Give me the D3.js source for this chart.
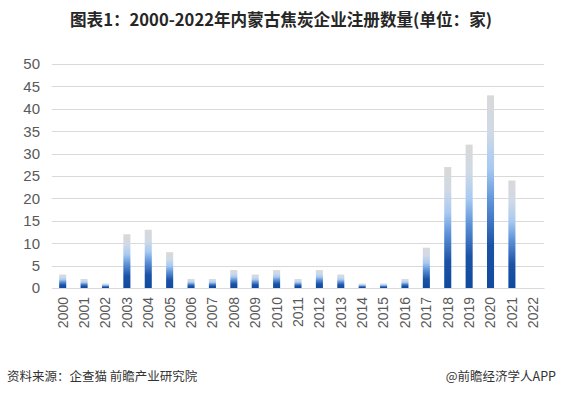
<!DOCTYPE html>
<html><head><meta charset="utf-8">
<script src="https://cdn.jsdelivr.net/npm/d3@7"></script>
<style>body{margin:0;background:#fff;}svg{display:block;}</style>
</head><body>
<svg id="c" width="561" height="396"></svg>
<script>
const years = ["2000","2001","2002","2003","2004","2005","2006","2007","2008","2009","2010","2011","2012","2013","2014","2015","2016","2017","2018","2019","2020","2021","2022"];
const counts = [3,2,1,12,13,8,2,2,4,3,4,2,4,3,1,1,2,9,27,32,43,24,0];
const yTicks = [0,5,10,15,20,25,30,35,40,45,50];
const title = "图表1：2000-2022年内蒙古焦炭企业注册数量(单位：家)";
const source = "资料来源：企查猫 前瞻产业研究院";
const credit = "@前瞻经济学人APP";

const svg = d3.select("#c");
const font = "'Noto Sans CJK SC','Noto Sans',sans-serif";
const m = {l:52, r:544, t:64, b:288};
const x = d3.scaleBand().domain(years).range([m.l, m.r]).paddingInner(0.67).paddingOuter(0.335);
const y = d3.scaleLinear().domain([0,50]).range([m.b, m.t]);

const defs = svg.append("defs");
const g = defs.append("linearGradient").attr("id","bg").attr("x1",0).attr("y1",1).attr("x2",0).attr("y2",0);
[[0,"#0f4a9e"],[0.22,"#1b52a6"],[0.45,"#5e93d8"],[0.62,"#a7c9f2"],[0.8,"#cfd9e6"],[1,"#d9d9d9"]]
  .forEach(([o,c])=>g.append("stop").attr("offset",o).attr("stop-color",c));

svg.append("text").attr("x",281).attr("y",26).attr("text-anchor","middle")
  .attr("font-family",font).attr("font-weight","bold").attr("font-size",16.6).attr("fill","#262626").text(title);

// grid
svg.append("g").selectAll("line").data(yTicks).join("line")
  .attr("x1",m.l).attr("x2",m.r).attr("y1",d=>Math.round(y(d))+0.5).attr("y2",d=>Math.round(y(d))+0.5)
  .attr("stroke","#d9d9d9").attr("stroke-width",1);

const ya = svg.append("g").attr("transform",`translate(${m.l},0)`)
  .call(d3.axisLeft(y).tickValues(yTicks).tickSize(0).tickPadding(12));
ya.select(".domain").remove();
ya.selectAll("text").attr("font-family","'Liberation Sans',Arial,sans-serif").attr("font-size",15).attr("fill","#595959");

svg.append("g").selectAll("rect").data(years).join("rect")
  .attr("x",d=>x(d)).attr("width",x.bandwidth())
  .attr("y",(d,i)=>y(counts[i])).attr("height",(d,i)=>y(0)-y(counts[i]))
  .attr("fill","url(#bg)");

const xa = svg.append("g").attr("transform",`translate(0,${m.b})`)
  .call(d3.axisBottom(x).tickSize(0).tickPadding(0));
xa.select(".domain").attr("stroke","#d9d9d9");
xa.selectAll("text").attr("font-family","'Liberation Sans',Arial,sans-serif").attr("font-size",14).attr("fill","#595959")
  .attr("transform","rotate(-90)").attr("text-anchor","end").attr("dy","0.35em").attr("x",-9).attr("y",0);

svg.append("text").attr("x",7).attr("y",381).attr("font-family",font).attr("font-size",12.5).attr("fill","#333").text(source);
svg.append("text").attr("x",556).attr("y",381).attr("text-anchor","end").attr("font-family",font).attr("font-size",12.5).attr("fill","#333").text(credit);
</script>
</body></html>
